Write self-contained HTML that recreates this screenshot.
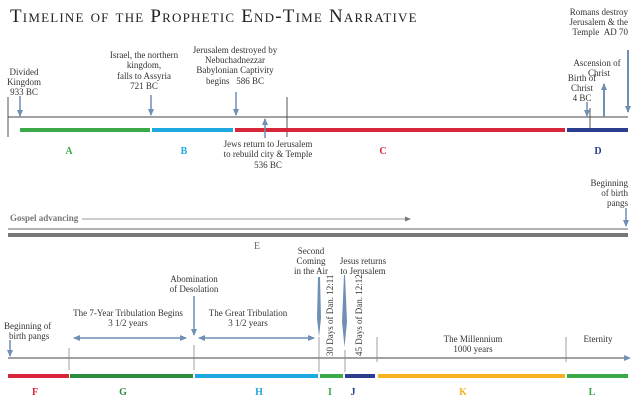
<!DOCTYPE html>
<html><head><meta charset="utf-8"><style>
body{margin:0;background:#fff}
svg{display:block}
text{font-family:"Liberation Serif",serif;font-size:9px;fill:#333}
.c{text-anchor:middle}
.r{text-anchor:end}
.L{font-size:10px;font-weight:bold}
</style></head><body>
<svg width="640" height="405" viewBox="0 0 640 405">
<defs>
<marker id="ah" markerWidth="8" markerHeight="8" refX="6" refY="4" orient="auto" markerUnits="userSpaceOnUse"><path d="M0,1 L7,4 L0,7 Z" fill="#6f8fb5"/></marker>
<marker id="ahs" markerWidth="6" markerHeight="6" refX="5" refY="3" orient="auto" markerUnits="userSpaceOnUse"><path d="M0,0.5 L6,3 L0,5.5 Z" fill="#777"/></marker>
<marker id="ahb" markerWidth="8" markerHeight="8" refX="1" refY="4" orient="auto" markerUnits="userSpaceOnUse"><path d="M7,1 L0,4 L7,7 Z" fill="#6f8fb5"/></marker>
</defs>
<text x="10" y="22" style="font-size:19px;font-variant:small-caps;letter-spacing:1.2px;fill:#222">Timeline of the Prophetic End-Time Narrative</text>

<!-- top timeline -->
<line x1="8" y1="97" x2="8" y2="137" stroke="#555" stroke-width="1"/>
<line x1="8" y1="117" x2="628" y2="117" stroke="#444" stroke-width="1"/>
<line x1="287" y1="97" x2="287" y2="137" stroke="#555" stroke-width="1"/>
<line x1="590" y1="108" x2="590" y2="130" stroke="#555" stroke-width="1"/>
<rect x="20" y="128" width="130" height="4" fill="#3aaa48"/>
<rect x="152" y="128" width="81" height="4" fill="#1ea8e0"/>
<rect x="235" y="128" width="330" height="4" fill="#d7263a"/>
<rect x="567" y="128" width="61" height="4" fill="#2a3d8f"/>
<text class="c L" x="69" y="154" style="fill:#3aaa48">A</text>
<text class="c L" x="184" y="154" style="fill:#1ea8e0">B</text>
<text class="c L" x="383" y="154" style="fill:#d7263a">C</text>
<text class="c L" x="598" y="154" style="fill:#2a3d8f">D</text>
<g stroke="#6f8fb5" stroke-width="1.5" fill="none">
<line x1="20" y1="96" x2="20" y2="116" marker-end="url(#ah)"/>
<line x1="151" y1="95" x2="151" y2="115" marker-end="url(#ah)"/>
<line x1="236" y1="92" x2="236" y2="115" marker-end="url(#ah)"/>
<line x1="265" y1="138" x2="265" y2="119" marker-end="url(#ah)"/>
<line x1="587" y1="102" x2="587" y2="116" marker-end="url(#ah)"/>
<line x1="604" y1="117" x2="604" y2="84" marker-end="url(#ah)" stroke-width="2"/>
<line x1="628" y1="50" x2="628" y2="112" marker-end="url(#ah)" stroke-width="2"/>
</g>
<text class="c" x="24" y="75">Divided</text><text class="c" x="24" y="85">Kingdom</text><text class="c" x="24" y="95">933 BC</text>
<text class="c" x="144" y="58">Israel, the northern</text><text class="c" x="144" y="68">kingdom,</text><text class="c" x="144" y="79">falls to Assyria</text><text class="c" x="144" y="89">721 BC</text>
<text class="c" x="235" y="53">Jerusalem destroyed by</text><text class="c" x="235" y="63">Nebuchadnezzar</text><text class="c" x="235" y="73">Babylonian Captivity</text><text class="c" x="235" y="84">begins&#160;&#160;&#160;586 BC</text>
<text class="c" x="268" y="147">Jews return to Jerusalem</text><text class="c" x="268" y="157">to rebuild city &amp; Temple</text><text class="c" x="268" y="168">536 BC</text>
<text class="r" x="628" y="15">Romans destroy</text><text class="r" x="628" y="25">Jerusalem &amp; the</text><text class="r" x="628" y="35">Temple&#160;&#160;AD 70</text>
<text class="c" x="597" y="66">Ascension of</text><text class="c" x="599" y="76">Christ</text>
<text class="c" x="582" y="81">Birth of</text><text class="c" x="582" y="91">Christ</text><text class="c" x="582" y="101">4 BC</text>

<!-- middle -->
<text class="r" x="628" y="186">Beginning</text><text class="r" x="628" y="196">of birth</text><text class="r" x="628" y="206">pangs</text>
<line x1="626" y1="208" x2="626" y2="226" stroke="#6f8fb5" stroke-width="1.5" marker-end="url(#ah)"/>
<text x="10" y="221" style="font-weight:bold;fill:#777">Gospel advancing</text>
<line x1="82" y1="219" x2="410" y2="219" stroke="#777" stroke-width="0.8" marker-end="url(#ahs)"/>
<line x1="8" y1="229" x2="628" y2="229" stroke="#999" stroke-width="1.5"/>
<rect x="8" y="233" width="620" height="4" fill="#777"/>
<text class="c" x="257" y="249" style="fill:#666;font-size:10px">E</text>

<!-- bottom -->
<line x1="8" y1="358" x2="626" y2="358" stroke="#444" stroke-width="1" />
<path d="M624,355 L631,358 L624,361 Z" fill="#6f8fb5"/>
<g stroke="#888" stroke-width="0.8">
<line x1="69" y1="348" x2="69" y2="370"/>
<line x1="194" y1="345" x2="194" y2="370"/>
<line x1="319" y1="337" x2="319" y2="372"/>
<line x1="345" y1="350" x2="345" y2="372"/>
<line x1="377" y1="337" x2="377" y2="362"/>
<line x1="566" y1="337" x2="566" y2="362"/>
</g>
<rect x="8" y="374" width="61" height="4" fill="#d7263a"/>
<rect x="70" y="374" width="123" height="4" fill="#2e8b3e"/>
<rect x="195" y="374" width="123" height="4" fill="#1ea8e0"/>
<rect x="320" y="374" width="23" height="4" fill="#3aaa48"/>
<rect x="345" y="374" width="30" height="4" fill="#2a3d8f"/>
<rect x="378" y="374" width="187" height="4" fill="#f5b324"/>
<rect x="567" y="374" width="61" height="4" fill="#3aaa48"/>
<text class="c L" x="35" y="395" style="fill:#d7263a">F</text>
<text class="c L" x="123" y="395" style="fill:#2e8b3e">G</text>
<text class="c L" x="259" y="395" style="fill:#1ea8e0">H</text>
<text class="c L" x="330" y="395" style="fill:#3aaa48">I</text>
<text class="c L" x="353" y="395" style="fill:#2a3d8f">J</text>
<text class="c L" x="463" y="395" style="fill:#f5b324">K</text>
<text class="c L" x="592" y="395" style="fill:#3aaa48">L</text>

<text x="4" y="329">Beginning of</text><text x="9" y="339">birth pangs</text>
<line x1="10" y1="340" x2="10" y2="356" stroke="#6f8fb5" stroke-width="1.5" marker-end="url(#ah)"/>
<text class="c" x="128" y="316">The 7-Year Tribulation Begins</text><text class="c" x="128" y="326">3 1/2 years</text>
<line x1="74" y1="338" x2="186" y2="338" stroke="#6f8fb5" stroke-width="1.5" marker-start="url(#ahb)" marker-end="url(#ah)"/>
<text class="c" x="194" y="282">Abomination</text><text class="c" x="194" y="292">of Desolation</text>
<line x1="194" y1="296" x2="194" y2="335" stroke="#6f8fb5" stroke-width="1.5" marker-end="url(#ah)"/>
<text class="c" x="248" y="316">The Great Tribulation</text><text class="c" x="248" y="326">3 1/2 years</text>
<line x1="199" y1="338" x2="314" y2="338" stroke="#6f8fb5" stroke-width="1.5" marker-start="url(#ahb)" marker-end="url(#ah)"/>
<text class="c" x="311" y="254">Second</text><text class="c" x="311" y="264">Coming</text><text class="c" x="311" y="274">in the Air</text>
<path d="M318,277 L320,277 L321,318 L319,337 L317,318 Z" fill="#6f8fb5"/>
<text class="c" x="363" y="264">Jesus returns</text><text class="c" x="363" y="274">to Jerusalem</text>
<path d="M344,275 L345,275 L347,322 L344.5,347 L342,322 Z" fill="#6f8fb5"/>
<text transform="translate(333,356) rotate(-90)">30 Days of Dan. 12:11</text>
<text transform="translate(362,356) rotate(-90)">45 Days of Dan. 12:12</text>
<text class="c" x="473" y="342">The Millennium</text><text class="c" x="473" y="352">1000 years</text>
<text class="c" x="598" y="342">Eternity</text>
</svg>
</body></html>
